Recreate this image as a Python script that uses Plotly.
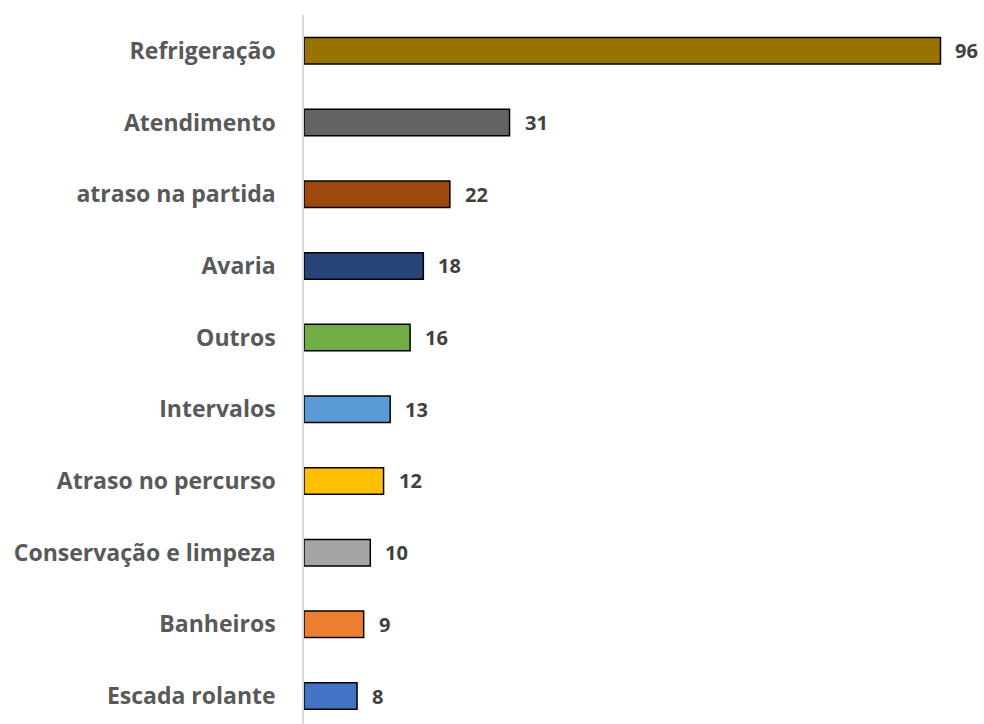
import plotly.graph_objects as go

categories = ["Escada rolante", "Banheiros", "Conservação e limpeza", "Atraso no percurso",
              "Intervalos", "Outros", "Avaria", "atraso na partida", "Atendimento", "Refrigeração"]
values = [8, 9, 10, 12, 13, 16, 18, 22, 31, 96]
colors = ["#4472C4", "#ED7D31", "#A5A5A5", "#FFC000", "#5B9BD5",
          "#70AD47", "#264478", "#9E480E", "#636363", "#997300"]

fig = go.Figure()
fig.add_trace(go.Bar(
    x=values, y=categories, orientation="h",
    marker=dict(color=colors, line=dict(color="#000000", width=1.5)),
    width=0.37, hoverinfo="skip",
))
for c, v in zip(categories, values):
    fig.add_annotation(x=v, y=c, text=f"<b>{v}</b>", showarrow=False,
                       xanchor="left", xshift=13,
                       font=dict(family="Open Sans", size=20, color="#404040"))

fig.update_layout(
    width=984, height=724,
    margin=dict(l=304, r=17, t=15, b=0),
    plot_bgcolor="white", paper_bgcolor="white",
    showlegend=False,
    font=dict(family="Open Sans", color="#595959"),
    xaxis=dict(range=[0, 100], visible=False, showgrid=False, zeroline=False),
    yaxis=dict(categoryorder="array", categoryarray=categories,
               range=[-0.39, 9.5], showline=True, linecolor="#D9D9D9", linewidth=1.5,
               showgrid=False, ticks="", ticklabelstandoff=22,
               tickfont=dict(family="Open Sans", size=23, color="#595959", weight="bold")),
)
fig.write_html("out.html", config={"displayModeBar": False},
               post_script="document.body.style.margin='0';document.body.style.overflow='hidden';")
